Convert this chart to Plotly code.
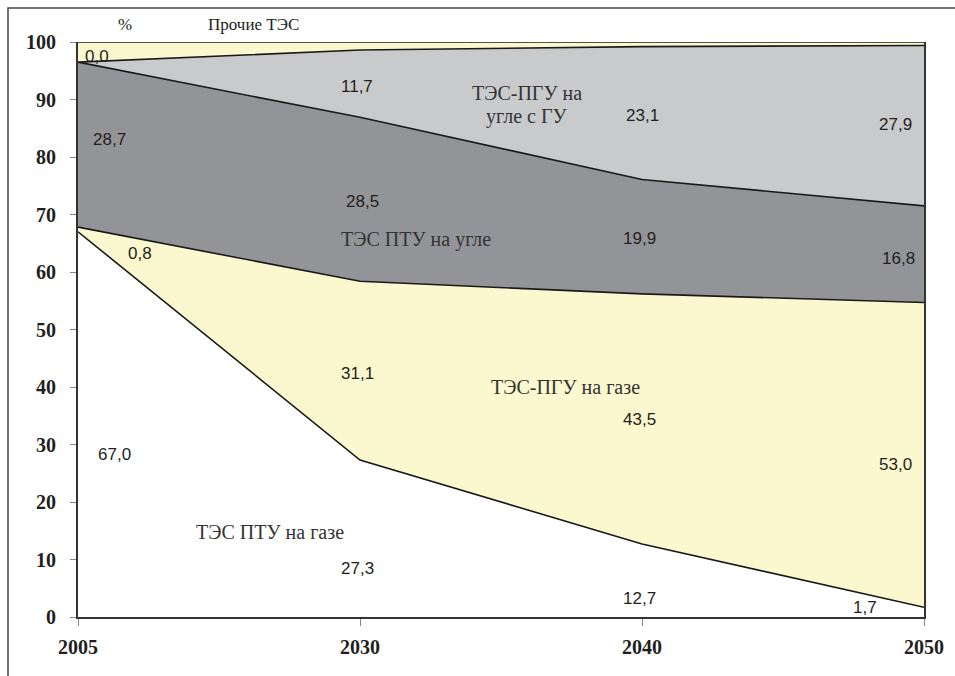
import plotly.graph_objects as go

# Structure of thermal power generation, %
years = ["2005", "2030", "2040", "2050"]
ptu_gas = [67.0, 27.3, 12.7, 1.7]     # ТЭС ПТУ на газе
pgu_gas = [0.8, 31.1, 43.5, 53.0]     # ТЭС-ПГУ на газе
ptu_coal = [28.7, 28.5, 19.9, 16.8]   # ТЭС ПТУ на угле
pgu_coal = [0.0, 11.7, 23.1, 27.9]    # ТЭС-ПГУ на угле с ГУ
other = [3.5, 1.4, 0.8, 0.6]          # Прочие ТЭС

series_names = ["ТЭС ПТУ на газе", "ТЭС-ПГУ на газе", "ТЭС ПТУ на угле",
                "ТЭС-ПГУ на угле с ГУ", "Прочие ТЭС"]
series_values = [ptu_gas, pgu_gas, ptu_coal, pgu_coal, other]
fill_colors = ["#FFFFFF", "#FBF8CF", "#939498", "#C9CACC", "#FBF8CF"]

y_ticks = [0, 10, 20, 30, 40, 50, 60, 70, 80, 90, 100]

SERIF = "Liberation Serif"
SANS = "Liberation Sans"

fig = go.Figure()
for name, vals, col in zip(series_names, series_values, fill_colors):
    fig.add_trace(go.Scatter(
        x=years, y=vals, name=name, mode="lines", stackgroup="one",
        fillcolor=col, line=dict(color="#1a1a1a", width=1.6),
        hoverinfo="skip", showlegend=False,
    ))

# value labels: (series index, year index, x offset in category units, y position)
value_label_pos = [
    (0, 0, 0.128, 28.3), (0, 1, -0.01, 8.5), (0, 2, -0.01, 3.3), (0, 3, -0.21, 1.7),
    (1, 0, 0.22, 63.3), (1, 1, -0.01, 42.3), (1, 2, -0.01, 34.4), (1, 3, -0.10, 26.6),
    (2, 0, 0.113, 83.0), (2, 1, 0.01, 72.2), (2, 2, -0.01, 65.9), (2, 3, -0.09, 62.3),
    (3, 0, 0.067, 97.4), (3, 1, -0.01, 92.2), (3, 2, 0.0, 87.3), (3, 3, -0.10, 85.6),
]
annotations = []
for si, yi, dx, ypos in value_label_pos:
    v = series_values[si][yi]
    annotations.append(dict(
        x=yi + dx, y=ypos, xref="x", yref="y", showarrow=False,
        text=f"{v:.1f}".replace(".", ","),
        font=dict(family=SANS, size=17, color="#231F20"),
    ))

# series name labels (x in category units, y in %)
name_label_pos = [
    (0.681, 14.8, "ТЭС ПТУ на газе"),
    (1.73, 40.0, "ТЭС-ПГУ на газе"),
    (1.199, 65.6, "ТЭС ПТУ на угле"),
    (1.592, 91.1, "ТЭС-ПГУ на"),
    (1.592, 87.1, "угле с ГУ"),
]
for xp, yp, txt in name_label_pos:
    annotations.append(dict(
        x=xp, y=yp, xref="x", yref="y", showarrow=False, text=txt,
        font=dict(family=SERIF, size=20, color="#333333"),
    ))
# labels above the plot area (paper coordinates)
annotations.append(dict(x=0.208, y=1.0296, xref="paper", yref="paper", showarrow=False,
                        xanchor="center", yanchor="middle", text="Прочие ТЭС",
                        font=dict(family=SERIF, size=17, color="#231F20")))
annotations.append(dict(x=0.0556, y=1.0296, xref="paper", yref="paper", showarrow=False,
                        xanchor="center", yanchor="middle", text="%",
                        font=dict(family=SERIF, size=17, color="#231F20")))

# outer frame of the chart
L, R, T, B = 78, 31, 42, 59
W, H = 955, 676
pw, ph = W - L - R, H - T - B
shapes = [dict(
    type="rect", xref="paper", yref="paper",
    x0=(8 - L) / pw, x1=(962 - L) / pw,
    y0=(H - B - 683) / ph, y1=(H - B - 8) / ph,
    line=dict(color="#444444", width=1.5), fillcolor="rgba(0,0,0,0)", layer="below",
)]

fig.update_layout(
    width=W, height=H,
    margin=dict(l=L, r=R, t=T, b=B),
    paper_bgcolor="white", plot_bgcolor="white",
    annotations=annotations, shapes=shapes,
    xaxis=dict(
        type="category", range=[0, 3], showgrid=False, zeroline=False,
        showline=True, linecolor="#333333", linewidth=2,
        ticks="outside", ticklen=7, tickcolor="#888888",
        ticklabelstandoff=4,
        tickfont=dict(family=SERIF, size=20, color="#231F20", weight="bold"),
    ),
    yaxis=dict(
        range=[0, 100], tickvals=y_ticks, showgrid=False, zeroline=False,
        showline=True, mirror=True, linecolor="#333333", linewidth=2,
        ticks="outside", ticklen=6, tickcolor="#888888",
        ticklabelstandoff=10,
        tickfont=dict(family=SERIF, size=20, color="#231F20", weight="bold"),
    ),
)

fig.write_html("out.html")
